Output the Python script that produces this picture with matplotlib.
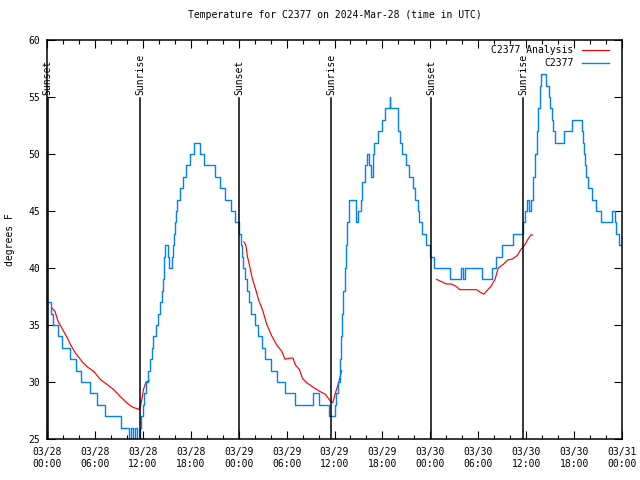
import numpy as np
import pandas as pd
import matplotlib
matplotlib.use("Agg")
import matplotlib.pyplot as plt
import matplotlib.dates as mdates

plt.rcParams['font.family'] = ['DejaVu Sans Mono']

base = pd.Timestamp("2024-03-28 00:00")

# Observed station series (hours since 03/28 00:00 UTC, degrees F)
obs_hours = [0.0, 0.45, 0.8, 1.4, 1.9, 2.9, 3.6, 4.3, 5.4, 6.2, 7.3, 9.3, 10.3, 10.5, 10.8, 11.0,
             11.3, 11.6, 11.8, 12.0, 12.2, 12.4, 12.7, 12.9, 13.1, 13.3, 13.6, 13.9, 14.1, 14.35,
             14.5, 14.6, 14.7, 14.8, 15.15, 15.3, 15.6, 15.75, 15.85, 16.0, 16.1, 16.25, 16.6,
             17.0, 17.4, 17.9, 18.4, 19.1, 19.6, 21.0, 21.7, 22.3, 23.0, 23.6, 24.1, 24.25, 24.4,
             24.6, 24.8, 25.1, 25.3, 25.6, 26.0, 26.4, 26.9, 27.3, 28.1, 28.8, 29.8, 31.1, 33.3,
             34.1, 35.3, 36.0, 36.25, 36.45, 36.65, 36.8, 36.9, 37.1, 37.3, 37.5, 37.6, 37.8,
             38.75, 39.0, 39.3, 39.5, 39.8, 40.1, 40.3, 40.55, 40.8, 41.0, 41.4, 41.9, 42.3, 42.9,
             43.0, 43.9, 44.0, 44.2, 44.5, 44.9, 45.3, 45.8, 46.1, 46.4, 46.6, 46.9, 47.4, 47.9,
             48.5, 50.5, 51.9, 52.1, 52.4, 54.5, 55.7, 56.2, 57.0, 58.4, 59.65, 59.85, 60.1, 60.4,
             60.55, 60.8, 60.9, 61.1, 61.3, 61.5, 61.7, 61.85, 62.5, 62.8, 63.0, 63.2, 63.35,
             63.55, 64.75, 65.8, 67.0, 67.1, 67.25, 67.35, 67.5, 67.8, 68.2, 68.8, 69.4, 70.8,
             71.1, 71.3, 71.6, 72.0]
obs_temps = [37, 36, 35, 34, 33, 32, 31, 30, 29, 28, 27, 26, 25, 26, 25, 26,
             25, 26, 27, 28, 29, 30, 31, 32, 33, 34, 35, 36, 37, 38,
             39, 40, 41, 42, 41, 40, 41, 42, 43, 44, 45, 46, 47,
             48, 49, 50, 51, 50, 49, 48, 47, 46, 45, 44, 43, 42, 41,
             40, 39, 38, 37, 36, 35, 34, 33, 32, 31, 30, 29, 28, 29,
             28, 27, 28, 29, 30, 32, 34, 36, 38, 40, 42, 44, 46,
             44, 45, 46, 47.5, 49, 50, 49, 48, 50, 51, 52, 53, 54, 55,
             54, 53, 52, 51, 50, 49, 48, 47, 46, 45, 44, 43, 42, 41,
             40, 39, 40, 39, 40, 39, 40, 41, 42, 43, 44, 45, 46, 45,
             46, 47, 48, 50, 52, 54, 56, 57, 56, 55, 54, 53, 52,
             51, 52, 53, 52, 51, 50, 49, 48, 47, 46, 45, 44, 45,
             44, 43, 42, 42]

# Analysis series (three segments, NaN = gap)
ana_hours = [0.6, 1.0, 1.4, 1.8, 2.2, 2.6, 3.0, 3.6, 4.5, 5.1, 5.9, 6.7, 7.5, 8.4, 9.2, 10.1,
             10.7, 11.5, 11.7, 11.9, 12.1, 12.4, 12.8, 18.0,
             24.65, 24.9, 25.1, 25.4, 25.7, 26.1, 26.5, 27.0, 27.5, 28.1, 28.8, 29.4, 29.8, 30.5,
             30.8, 31.1, 31.6, 32.0, 32.6, 33.2, 34.1, 34.9, 35.5, 35.8, 36.1, 36.5, 36.9, 42.0,
             48.8, 49.4, 50.0, 50.6, 51.2, 51.7, 52.3, 53.8, 54.2, 54.7, 55.2, 55.6, 56.1, 56.5,
             57.1, 57.7, 58.3, 58.9, 59.3, 59.8, 60.2, 60.6, 60.8]
ana_temps = [36.5, 36.2, 35.3, 34.8, 34.3, 33.8, 33.2, 32.5, 31.7, 31.3, 30.9, 30.2, 29.8, 29.3,
             28.7, 28.1, 27.8, 27.6, 27.8, 28.6, 29.4, 30.0, 30.1, np.nan,
             42.3, 42.0, 41.0, 40.1, 39.1, 38.2, 37.2, 36.3, 35.1, 34.1, 33.2, 32.7, 32.0, 32.1,
             32.1, 31.5, 31.1, 30.3, 29.9, 29.6, 29.2, 28.9, 28.3, 28.2, 29.0, 29.9, 31.0, np.nan,
             39.0, 38.8, 38.6, 38.6, 38.4, 38.1, 38.1, 38.1, 37.9, 37.7, 38.1, 38.4, 39.0, 40.0,
             40.3, 40.7, 40.8, 41.1, 41.6, 42.0, 42.5, 42.9, 42.9]

sun_hours = [0.1, 11.65, 24.07, 35.55, 48.1, 59.6]
sun_labels = ["Sunset", "Sunrise", "Sunset", "Sunrise", "Sunset", "Sunrise"]

y_ticks = [25, 30, 35, 40, 45, 50, 55, 60]

def to_time(hours):
    return base + pd.to_timedelta(np.asarray(hours, dtype=float), unit="h")

fig = plt.figure(figsize=(6.4, 4.8), dpi=100)
ax = fig.add_axes([47/640, 41/480, 575/640, 399/480])

ax.plot(to_time(ana_hours), ana_temps, color="#ff0000", lw=0.85)
ax.plot(to_time(obs_hours), obs_temps, color="#0080ff", lw=1.0, drawstyle="steps-post")

for h, lab in zip(sun_hours, sun_labels):
    t = to_time([h])[0]
    ax.axvline(t, ymin=0, ymax=0.855, color="black", lw=1.1)
    ax.text(t, 0.862, lab, rotation=90, ha="center", va="bottom", fontsize=7,
            transform=ax.get_xaxis_transform())

ax.set_xlim(base, base + pd.Timedelta(hours=72))
ax.set_ylim(25, 60)
ax.set_yticks(y_ticks)
ax.xaxis.set_major_locator(mdates.HourLocator(byhour=range(0, 24, 6)))
ax.xaxis.set_minor_locator(mdates.HourLocator(byhour=range(0, 24, 2)))
ax.xaxis.set_major_formatter(mdates.DateFormatter("%m/%d\n%H:%M"))
ax.tick_params(axis="both", which="major", direction="in", length=6, width=0.8,
               top=True, right=True, labelsize=7, pad=5)
ax.tick_params(axis="x", which="minor", direction="in", length=3, width=0.8, top=True)
ax.tick_params(axis="x", which="major", pad=6)
for s in ax.spines.values():
    s.set_linewidth(1.1)

ax.set_title("Temperature for C2377 on 2024-Mar-28 (time in UTC)", fontsize=7, pad=16)
fig.text(10/640, 240/480, "degrees F", rotation=90, ha="center", va="center", fontsize=7)

# legend (gnuplot style: right aligned text, sample on the right)
for yfrac, lab, col, lw in [(0.975, "C2377 Analysis", "#ff0000", 0.85),
                            (0.943, "C2377", "#0080ff", 1.0)]:
    ax.text(0.916, yfrac, lab, ha="right", va="center", fontsize=7, transform=ax.transAxes)
    ax.plot([0.930, 0.978], [yfrac, yfrac], color=col, lw=lw, transform=ax.transAxes)

fig.savefig("out.png", dpi=100)
